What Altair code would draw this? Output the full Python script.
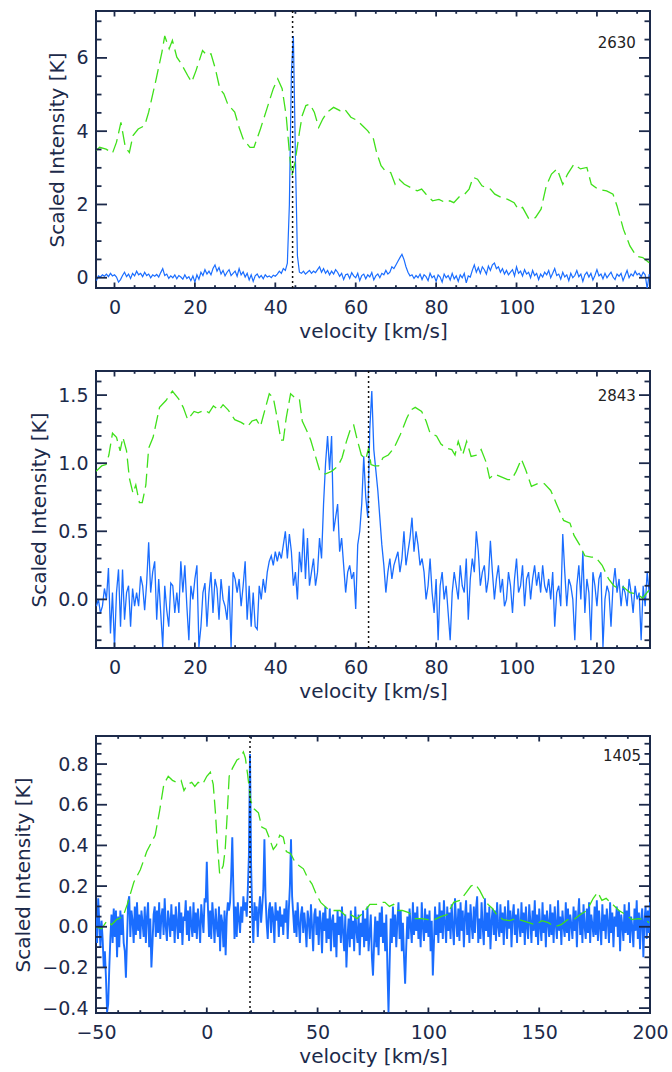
import altair as alt
import pandas as pd
import numpy as np

NAVY = "#1c2a4a"
BLUE = "#1a6dff"
GREEN = "#3fe01a"
FONT = "DejaVu Sans"
W, H = 554, 277

# ---------------- Panel 1 (2630) ----------------
p1_label = "2630"
p1_center = 44.3
p1_blue_start, p1_blue_step = -4.5, 0.5
# blue spectrum, units of 0.01 K
p1_blue = [
    -8, 5, 2, 8, 4, 10, 3, 12, 5, 8,
    2, -12, -5, 6, 15, 3, 10, -2, 12, 5,
    18, 8, 12, 3, 15, 6, 10, 0, 8, 4,
    9, 2, 14, 25, 6, 10, -2, 5, 0, 8,
    -3, 6, 2, -4, 8, -2, 3, -8, 5, -12,
    8, -4, 15, 6, 22, 10, 18, 8, 25, 35,
    18, 28, 10, 20, 5, 15, 22, 6, 12, 18,
    4, 25, 8, 16, 2, 12, -6, 8, -10, 5,
    10, 0, 6, -3, 8, 2, 5, 0, 7, 4,
    10, 18, 12, 25, 20, 40, 200, 560, 660, 330,
    60, 15, 12, 18, 10, 15, 20, 12, 18, 14,
    22, 30, 15, 25, 12, 20, 8, 18, 10, 22,
    15, 4, 12, -5, 8, 10, -2, 14, 5, 0,
    12, -8, 6, 10, -3, 8, 2, 14, -6, 5,
    10, 0, 12, 8, 20, 10, 15, 30, 25, 35,
    45, 55, 64, 50, 30, 15, 5, 8, -2, 6,
    0, 10, -5, 8, 3, -8, 12, 0, 5, -10,
    8, 2, -12, 10, 0, 6, -6, 12, -3, 5,
    -10, 8, 0, 12, -14, 5, 2, 20, 35, 15,
    28, 12, 30, 22, 10, 32, 20, 35, 40, 25,
    30, 15, 25, 10, 20, 8, 15, 22, 5, 30,
    12, 18, 5, 22, 10, 15, 0, 20, 6, 12,
    -5, 10, 2, 15, 8, 20, 0, 12, 25, 6,
    10, -4, 15, 2, 8, -8, 12, 0, 6, 20,
    3, 10, -10, 8, 15, 2, 12, -6, 6, 22,
    5, 10, -3, 12, 0, 8, 15, 2, -5, 10,
    4, 12, -8, 6, 20, 0, 10, 5, 18, 8,
    12, 3, 15, 8, -30, 10]
p1_green_v = [
    -4.6, -3.7, -2.1, -0.5, 0.5, 1.6, 2.7, 3.7, 4.6, 5.9,
    7.5, 8.5, 10.2, 11.8, 12.5, 13.6, 14.4, 15.5, 16.6, 18.2,
    19.2, 20.3, 21.9, 23.0, 24.0, 25.1, 26.2, 27.2, 28.3, 29.2,
    29.9, 31.0, 32.0, 33.7, 34.7, 36.3, 37.9, 39.5, 40.6, 41.7,
    42.7, 43.5, 44.1, 44.9, 46.0, 46.7, 47.6, 48.6, 49.7, 50.8,
    51.8, 52.9, 54.5, 56.1, 57.2, 58.8, 60.4, 61.7, 63.0, 64.4,
    65.2, 66.3, 67.3, 68.7, 69.8, 70.8, 72.1, 73.7, 75.3, 76.4,
    77.5, 79.1, 80.7, 82.3, 83.4, 84.4, 86.0, 87.1, 88.2, 89.2,
    90.3, 91.4, 92.4, 93.5, 94.6, 96.2, 97.8, 99.4, 100.4, 101.5,
    103.1, 104.7, 106.1, 107.4, 108.7, 110.1, 111.5, 112.7, 114.3, 115.9,
    117.5, 118.6, 120.2, 122.4, 124.0, 125.0, 126.6, 128.2, 129.8, 131.4, 133.0]
p1_green_t = [
    3.47, 3.56, 3.51, 3.40, 3.70, 4.24, 3.56, 3.42, 3.88, 4.06,
    4.15, 4.52, 5.34, 6.16, 6.60, 6.25, 6.48, 6.02, 5.84, 5.52,
    5.34, 5.66, 6.20, 6.07, 6.11, 5.70, 5.16, 5.02, 4.70, 4.61,
    4.52, 4.10, 3.79, 3.56, 3.56, 4.06, 4.61, 5.16, 5.43, 5.16,
    4.43, 3.42, 2.78, 3.15, 3.97, 4.43, 4.70, 4.74, 4.52, 4.10,
    4.33, 4.52, 4.65, 4.56, 4.61, 4.38, 4.29, 4.15, 4.01, 3.79,
    3.42, 3.06, 2.92, 2.87, 2.55, 2.69, 2.55, 2.46, 2.37, 2.42,
    2.28, 2.10, 2.14, 2.05, 2.10, 2.05, 2.24, 2.28, 2.42, 2.74,
    2.69, 2.51, 2.46, 2.42, 2.28, 2.19, 2.14, 2.05, 1.87, 1.92,
    1.60, 1.64, 1.87, 2.51, 2.83, 2.97, 2.55, 2.83, 3.10, 2.97,
    3.01, 2.55, 2.42, 2.37, 2.28, 1.96, 1.32, 0.87, 0.59, 0.55, 0.41]

# ---------------- Panel 2 (2843) ----------------
p2_label = "2843"
p2_center = 63.2
p2_blue_start, p2_blue_step = -4.5, 0.5
p2_blue = [
    -5, 0, -10, -5, 8, 0, 23, -25, 5, -35,
    5, 22, -20, 22, -15, 5, 10, -20, 8, -5,
    5, -5, 17, 10, -8, 12, 42, 5, 20, 28,
    -15, 15, -10, -35, 10, -8, -20, 12, 10, -10,
    5, -10, 28, 5, 25, -5, -30, 10, 0, 15,
    25, -35, -20, 5, 12, -20, 5, 20, -10, 15,
    8, -15, 15, 0, -5, -15, 10, -35, 20, 15,
    5, 15, -5, 10, 28, -15, 10, -20, 5, -20,
    -22, 10, 0, 15, 5, 20, 28, 32, 25, 35,
    28, 35, 30, 40, 50, 30, 48, 35, 10, 20,
    0, 35, 20, 52, 15, 45, 10, 20, 30, 10,
    20, 45, 30, 70, 100, 120, 95, 120, 50, 60,
    70, 35, 45, 25, 5, 20, 25, 15, 20, -7,
    40, 50, 70, 105, 75, 60, 125, 153, 110, 95,
    80, 60, 40, 25, 5, 20, 30, 15, 25, 30,
    35, 20, 30, 50, 25, 35, 45, 60, 35, 50,
    40, 25, 30, 20, 0, 10, 30, 5, -10, 15,
    -30, 10, 20, 0, 10, -10, -30, 5, 20, 10,
    0, 25, 10, 5, 30, -15, 15, 30, 20, 50,
    35, 10, 20, 25, 5, 15, 43, 20, 0, 15,
    25, 5, 15, -5, 0, 20, 10, -10, 15, 30,
    5, 10, 25, -5, 15, 20, 0, 15, 25, 10,
    20, 5, 25, 10, 5, 15, 0, 20, -20, 5,
    10, -5, 48, 20, -5, 15, 10, 0, -30, 10,
    25, 0, 35, -10, 15, 5, -30, 20, 10, -5,
    15, 20, -35, 0, 10, 5, -20, 10, 23, 5,
    15, -5, 10, 5, -5, 15, 5, -10, 10, 0,
    5, -30, 10, -5, 20, 5]
p2_green_v = [
    -4.6, -3.2, -2.1, -1.4, -0.5, 0.5, 1.4, 2.1, 3.0, 3.7,
    4.6, 5.3, 6.2, 6.9, 7.8, 8.5, 9.6, 11.2, 12.8, 14.4,
    16.0, 17.1, 18.2, 19.8, 20.8, 22.4, 23.5, 24.6, 26.0, 27.0,
    28.3, 29.9, 31.5, 33.1, 34.2, 35.3, 36.3, 37.4, 38.5, 39.5,
    40.6, 41.4, 42.0, 42.7, 43.8, 44.9, 46.0, 46.7, 47.8, 48.8,
    49.9, 51.0, 52.4, 54.0, 55.6, 56.6, 57.7, 58.8, 59.5, 60.4,
    61.4, 62.5, 63.2, 63.8, 64.7, 65.7, 66.8, 68.1, 69.5, 71.1,
    72.7, 73.7, 74.8, 76.4, 77.5, 78.5, 80.1, 81.2, 82.6, 83.9,
    84.7, 85.5, 86.6, 87.6, 88.7, 90.1, 91.2, 92.4, 93.3, 94.6,
    96.2, 97.8, 98.8, 99.9, 101.2, 102.3, 103.7, 105.3, 106.9, 108.5,
    110.1, 111.7, 113.3, 114.3, 115.7, 117.0, 118.6, 119.7, 121.3, 122.9,
    124.2, 125.3, 126.6, 128.2, 129.8, 131.4, 133.0]
p2_green_t = [
    0.94, 0.98, 0.99, 1.06, 1.22, 1.19, 1.09, 1.19, 1.09, 0.89,
    0.78, 0.84, 0.71, 0.71, 0.84, 1.11, 1.19, 1.41, 1.46, 1.53,
    1.47, 1.41, 1.32, 1.38, 1.37, 1.39, 1.37, 1.42, 1.39, 1.43,
    1.39, 1.32, 1.30, 1.27, 1.31, 1.32, 1.27, 1.39, 1.51, 1.48,
    1.31, 1.17, 1.17, 1.33, 1.51, 1.48, 1.47, 1.31, 1.24, 1.17,
    1.06, 0.95, 0.92, 0.94, 0.98, 1.04, 1.16, 1.26, 1.28, 1.17,
    1.06, 1.03, 1.11, 0.99, 0.98, 0.98, 1.04, 1.06, 1.11, 1.21,
    1.33, 1.39, 1.41, 1.38, 1.31, 1.22, 1.20, 1.14, 1.11, 1.10,
    1.06, 1.16, 1.06, 1.16, 1.05, 1.06, 1.10, 1.01, 0.89, 0.92,
    0.90, 0.88, 0.88, 0.94, 1.03, 0.95, 0.83, 0.85, 0.85, 0.80,
    0.69, 0.58, 0.56, 0.47, 0.40, 0.32, 0.31, 0.31, 0.25, 0.15,
    0.10, 0.08, 0.09, 0.05, 0.04, 0.01, 0.07]

# ---------------- Panel 3 (1405) ----------------
p3_label = "1405"
p3_center = 19.5
p3_blue_start, p3_blue_step = -50.0, 0.5
p3_blue = [
    5, -8, 14, 2, -10, 3, -6, -20, -12, -25,
    -42, -38, -20, -5, 6, -8, 9, -5, 8, -15,
    5, -10, 8, -4, 6, -8, -12, -25, -6, 12,
    15, -5, 8, 3, -8, 10, -4, 12, -2, 6,
    -6, 8, 2, -5, 10, -8, 5, 12, -10, 4,
    -20, -8, 6, 10, -5, 8, -3, 12, -6, 5,
    9, -4, 14, 0, -7, 8, 3, -5, 11, -2,
    6, -8, 10, 2, -6, 12, -3, 7, -9, 5,
    3, 13, -4, 8, -7, 10, 1, -5, 12, -3,
    7, -6, 9, 2, -8, 11, 4, -3, 14, 12,
    32, 10, -5, 8, -6, 12, 3, -8, 9, 0,
    -5, 10, -12, 6, 2, -10, 8, -14, 5, 12,
    8, 12, 25, 44, 18, -6, 10, -5, 12, 4,
    -3, 10, 2, 15, 8, 12, 5, 18, 35, 85,
    30, 5, -8, 12, 3, 10, -5, 8, 15, 2,
    10, 18, 43, 15, 2, -6, 8, 12, -3, 10,
    5, -8, 12, 3, 8, -5, 10, 0, 6, -4,
    9, 2, 13, -6, 8, 20, 43, 15, 6, -3,
    8, -5, 12, 2, -8, 6, 10, -3, 7, 0,
    -10, 8, 3, -6, 11, 0, -12, 6, 9, -4,
    5, -9, 8, 2, -13, 7, -2, 10, -8, 4,
    -6, 9, -12, 3, 6, -10, 2, -15, 8, -4,
    5, -8, 10, -3, -12, 6, -20, -5, 4, -10,
    8, -6, 3, -12, 10, -2, -8, 6, -14, 2,
    -5, 8, -10, 4, -7, 10, -12, -3, 6, -15,
    -24, -8, 5, -10, 3, -14, 7, -5, 10, -8,
    2, -12, 6, -20, -42, -18, 4, -8, 10, -5,
    6, -10, 3, 12, -6, 8, -12, 2, -15, -28,
    -10, 5, -6, 9, 0, -8, 12, -4, 7, -2,
    10, -6, 4, -10, 12, 0, -7, 9, -3, 6,
    -5, 8, -12, 3, -24, -8, 10, -4, 6, -8,
    12, -3, 8, -6, 13, 2, -8, 10, -2, 7,
    -6, 11, 0, -9, 14, 3, -5, 9, -7, 12,
    -2, 8, -10, 5, 13, -4, 7, -8, 11, 1,
    -6, 10, -3, 9, 15, -8, 4, -6, 12, 0,
    -9, 14, -2, 7, -5, 10, -11, 3, 9, -4,
    8, -7, 12, 0, -5, 11, -3, 7, -9, 10,
    2, -6, 13, -1, 8, -10, 5, 11, -4, 6,
    -8, 9, 1, -5, 12, -3, 7, -9, 10, 0,
    -6, 11, 3, -8, 8, -2, 13, -5, 6, -9,
    9, 0, -7, 12, -3, 6, -10, 8, 2, -5,
    11, -4, 7, -8, 10, 1, -6, 13, -2, 5,
    -9, 8, 0, -5, 12, -3, 9, -7, 6, 1,
    -6, 10, -2, 8, -10, 5, 14, -4, 7, -8,
    11, 0, -6, 9, -3, 12, -8, 6, 1, -5,
    10, -4, 13, -7, 8, 0, -9, 11, -2, 6,
    -6, 9, 2, -8, 12, -3, 7, -10, 5, 0,
    10, -5, 8, -12, 6, 1, -7, 11, -3, 8,
    -4, 12, -8, 5, 0, -10, 9, -2, 13, -6,
    7, -11, 4, 9, -15, 3, 10, -6, 8, -3,
    12]
p3_green_v = [
    -50, -47.5, -45, -43, -40.7, -37.8, -35.9, -32.9, -30, -27.1,
    -23.3, -21.3, -19.4, -17.4, -15.5, -13.6, -11.6, -10.3, -8.7, -6.8,
    -5.4, -3.9, -1.9, 0, 1.6, 2.9, 3.9, 4.8, 5.8, 7.4,
    8.3, 9.1, 10.1, 11.6, 13.6, 15.1, 16.5, 17.4, 18.4, 19.8,
    21.3, 23.3, 24.8, 26.7, 28.1, 30, 31.4, 32.9, 34.5, 35.9,
    37.8, 39.7, 41.7, 43.6, 45.5, 47.5, 49.4, 51.4, 54.3, 57.2,
    60.1, 63, 64.9, 67.8, 70.7, 73.6, 76.6, 78.5, 80.4, 82.4,
    84.3, 86.2, 88.2, 91.1, 94, 96.9, 99.8, 102.7, 105.6, 108.5,
    111.4, 114.3, 117.2, 119.2, 121.1, 123.1, 125, 126.9, 128.9, 130.8,
    133.7, 136.6, 139.5, 142.4, 145.3, 148.3, 151.2, 154.1, 157, 159.9,
    162.8, 165.7, 168.6, 171.5, 174.4, 176.4, 178.3, 180.2, 183.1, 186,
    189, 191.9, 194.8, 197.7, 199.6]
p3_green_t = [
    0.0, -0.01, 0.03, 0.01, 0.035, 0.05, 0.11, 0.22, 0.28, 0.37,
    0.45, 0.57, 0.70, 0.74, 0.72, 0.71, 0.72, 0.67, 0.70, 0.71,
    0.69, 0.71, 0.70, 0.74, 0.76, 0.70, 0.56, 0.40, 0.26, 0.30,
    0.38, 0.53, 0.74, 0.78, 0.82, 0.83, 0.86, 0.83, 0.75, 0.62,
    0.58, 0.56, 0.49, 0.48, 0.44, 0.38, 0.40, 0.45, 0.44, 0.37,
    0.36, 0.32, 0.30, 0.285, 0.24, 0.21, 0.16, 0.12, 0.09, 0.08,
    0.08, 0.05, 0.06, 0.04, 0.07, 0.11, 0.11, 0.12, 0.12, 0.10,
    0.11, 0.08, 0.08, 0.07, 0.04, 0.04, 0.035, 0.035, 0.05, 0.06,
    0.12, 0.13, 0.17, 0.20, 0.21, 0.18, 0.14, 0.11, 0.09, 0.06,
    0.035, 0.03, 0.04, 0.03, 0.02, 0.01, 0.03, 0.02, 0.0, 0.01,
    0.035, 0.035, 0.06, 0.08, 0.14, 0.17, 0.13, 0.14, 0.11, 0.08,
    0.06, 0.035, 0.04, 0.035, 0.02]

# axis settings per panel
p1_xdom, p1_ydom = [-4.6, 133.2], [-0.28, 7.28]
p2_xdom, p2_ydom = [-4.6, 133.2], [-0.357, 1.677]
p3_xdom, p3_ydom = [-50, 200], [-0.424, 0.938]
p12_xticks = [0, 20, 40, 60, 80, 100, 120]
p3_xticks = [-50, 0, 50, 100, 150, 200]
p1_yticks = [0, 2, 4, 6]
p2_yticks = [0.0, 0.5, 1.0, 1.5]
p3_yticks = [-0.4, -0.2, 0.0, 0.2, 0.4, 0.6, 0.8]


def minor_ticks(lo, hi, step, major_step):
    out = []
    k = int(np.ceil(lo / step - 1e-9))
    while k * step <= hi + 1e-9:
        v = round(k * step, 6)
        r = v / major_step
        if abs(r - round(r)) > 1e-6:
            out.append(v)
        k += 1
    return out


def panel(bstart, bstep, bvals, gv, gt, center, label, lab_x, lab_y,
          xdom, ydom, xmaj, xmaj_step, xmin_step, ymaj, ymaj_step, ymin_step,
          xfmt, yfmt, bwidth):
    xs = alt.Scale(domain=xdom, nice=False, zero=False)
    ys = alt.Scale(domain=ydom, nice=False, zero=False)
    bdf = pd.DataFrame({"v": [bstart + i * bstep for i in range(len(bvals))],
                        "t": [b / 100 for b in bvals]})
    gdf = pd.DataFrame({"v": gv, "t": gt})
    xaxis = alt.Axis(values=xmaj, format=xfmt, ticks=False, domain=False, grid=False,
                     labelFlush=False, labelOverlap=False,
                     labelFont=FONT, labelFontSize=19, labelColor=NAVY, labelPadding=10,
                     title="velocity [km/s]", titleFont=FONT, titleFontSize=20,
                     titleFontWeight="normal", titleColor=NAVY, titlePadding=4)
    yaxis = alt.Axis(values=ymaj, format=yfmt, ticks=False, domain=False, grid=False,
                     labelFlush=False, labelOverlap=False,
                     labelFont=FONT, labelFontSize=19, labelColor=NAVY, labelPadding=8,
                     title="Scaled Intensity [K]", titleFont=FONT, titleFontSize=20,
                     titleFontWeight="normal", titleColor=NAVY, titlePadding=8)
    blue = alt.Chart(bdf).mark_line(color=BLUE, strokeWidth=bwidth, clip=True).encode(
        x=alt.X("v:Q", scale=xs, axis=xaxis), y=alt.Y("t:Q", scale=ys, axis=yaxis))
    green = alt.Chart(gdf).mark_line(color=GREEN, strokeWidth=1.3, strokeDash=[14, 6],
                                     clip=True).encode(
        x=alt.X("v:Q", scale=xs), y=alt.Y("t:Q", scale=ys))
    dotted = alt.Chart(pd.DataFrame({"v": [center]})).mark_rule(
        color="#111111", strokeWidth=1.5, strokeDash=[2, 3]).encode(
        x=alt.X("v:Q", scale=xs))
    layers = [blue, green, dotted]
    ymin = minor_ticks(ydom[0], ydom[1], ymin_step, ymaj_step)
    xmin = minor_ticks(xdom[0], xdom[1], xmin_step, xmaj_step)
    for vals, ln in ((ymaj, 11), (ymin, 5.5)):
        d = pd.DataFrame({"t": vals})
        for a, b in ((0, ln), (W - ln, W)):
            layers.append(alt.Chart(d).mark_rule(color=NAVY, strokeWidth=1.8).encode(
                y=alt.Y("t:Q", scale=ys), x=alt.value(a), x2=alt.value(b)))
    for vals, ln in ((xmaj, 5.5), (xmin, 2.8)):
        d = pd.DataFrame({"v": vals})
        for a, b in ((0, ln), (H - ln, H)):
            layers.append(alt.Chart(d).mark_rule(color=NAVY, strokeWidth=1.8).encode(
                x=alt.X("v:Q", scale=xs), y=alt.value(a), y2=alt.value(b)))
    txt = alt.Chart(pd.DataFrame({"v": [lab_x], "t": [lab_y], "s": [label]})).mark_text(
        align="right", baseline="middle", font=FONT, fontSize=15, color="#222222").encode(
        x=alt.X("v:Q", scale=xs), y=alt.Y("t:Q", scale=ys), text="s:N")
    layers.append(txt)
    return alt.layer(*layers).properties(width=W, height=H)


c1 = panel(p1_blue_start, p1_blue_step, p1_blue, p1_green_v, p1_green_t, p1_center,
           p1_label, 129.7, 6.41, p1_xdom, p1_ydom, p12_xticks, 20, 5, p1_yticks, 2, 0.5,
           "d", "d", 1.2)
c2 = panel(p2_blue_start, p2_blue_step, p2_blue, p2_green_v, p2_green_t, p2_center,
           p2_label, 129.7, 1.49, p2_xdom, p2_ydom, p12_xticks, 20, 5, p2_yticks, 0.5, 0.1,
           "d", ".1f", 1.3)
c3 = panel(p3_blue_start, p3_blue_step, p3_blue, p3_green_v, p3_green_t, p3_center,
           p3_label, 196, 0.84, p3_xdom, p3_ydom, p3_xticks, 50, 10, p3_yticks, 0.2, 0.05,
           "d", ".1f", 1.9)

top = alt.vconcat(c1, c2, spacing=27)
chart = alt.vconcat(top, c3, spacing=32).configure_view(
    stroke=NAVY, strokeWidth=2).properties(
    padding={"left": 12, "top": 9, "right": 0, "bottom": 2}, background="white")

chart.save("out.html", embed_options={"renderer": "svg", "actions": False})
